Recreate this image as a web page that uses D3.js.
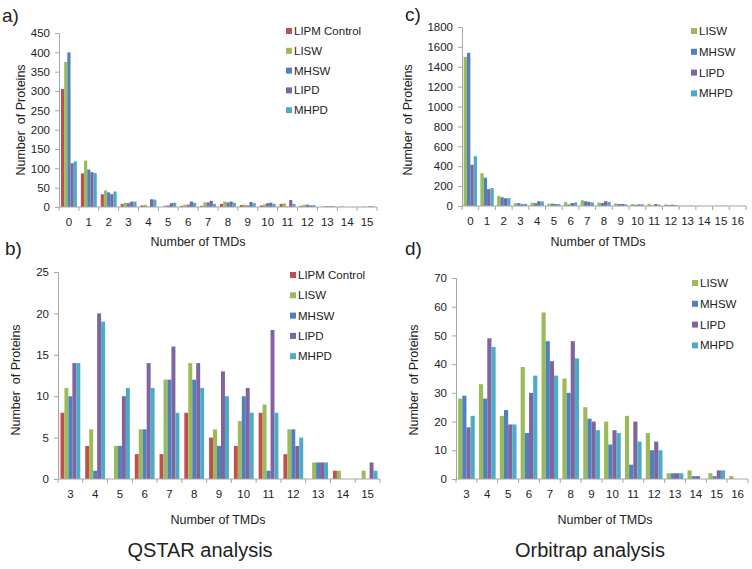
<!DOCTYPE html>
<html>
<head>
<meta charset="utf-8">
<script src="https://cdn.jsdelivr.net/npm/d3@7"></script>
<style>
  body { margin: 0; background: #fff; }
  svg { font-family: "Liberation Sans", Arial, sans-serif; }
  text { white-space: pre; }
</style>
</head>
<body>
<svg id="chart" width="752" height="569"></svg>
<script>
// ---------- DATA ----------
const seriesQ = ["LIPM Control", "LISW", "MHSW", "LIPD", "MHPD"];
const seriesO = ["LISW", "MHSW", "LIPD", "MHPD"];

// QSTAR, TMD 0..15
const tmdA = ["0","1","2","3","4","5","6","7","8","9","10","11","12","13","14","15"];
const qLIPM = [305, 87, 33, 8, 4, 0, 3, 3, 8, 5, 4, 8, 3, 0, 1, 0];
const qLISW = [375, 120, 43, 11, 6, 4, 6, 12, 14, 6, 7, 9, 6, 2, 1, 1];
const qMHSW = [400, 97, 38, 10, 1, 4, 6, 12, 12, 4, 10, 1, 6, 2, 0, 0];
const qLIPD = [113, 90, 33, 14, 20, 10, 14, 16, 14, 13, 11, 18, 4, 2, 0, 2];
const qMHPD = [118, 88, 40, 14, 19, 11, 11, 8, 11, 10, 8, 8, 5, 2, 0, 1];

// Orbitrap, TMD 0..16
const tmdC = ["0","1","2","3","4","5","6","7","8","9","10","11","12","13","14","15","16"];
const oLISW = [1500, 330, 100, 28, 33, 22, 39, 58, 35, 25, 20, 22, 16, 2, 3, 2, 1];
const oMHSW = [1540, 285, 88, 29, 28, 24, 16, 48, 30, 21, 12, 5, 10, 2, 1, 1, 0];
const oLIPD = [415, 170, 78, 18, 49, 19, 30, 41, 48, 20, 17, 20, 13, 2, 1, 3, 0];
const oMHPD = [500, 180, 80, 22, 46, 19, 36, 36, 42, 17, 16, 13, 10, 2, 0, 3, 0];

const ticksA = [0, 50, 100, 150, 200, 250, 300, 350, 400, 450];
const ticksB = [0, 5, 10, 15, 20, 25];
const ticksC = [0, 200, 400, 600, 800, 1000, 1200, 1400, 1600, 1800];
const ticksD = [0, 10, 20, 30, 40, 50, 60, 70];

const colorMap = {
  "LIPM Control": "#C0504D",
  "LISW": "#9BBB59",
  "MHSW": "#4F81BD",
  "LIPD": "#8064A2",
  "MHPD": "#4BACC6"
};

const svg = d3.select("#chart");
const FONT = "Liberation Sans, Arial, sans-serif";

function drawPanel(cfg) {
  const g = svg.append("g");
  const x = d3.scaleBand().domain(cfg.cats).range([cfg.x0, cfg.x1]).paddingInner(0).paddingOuter(0);
  const y = d3.scaleLinear().domain([0, cfg.ymax]).range([cfg.y0, cfg.y1]);
  const bw = x.bandwidth();
  const inner = d3.scaleBand().domain(cfg.series).range([bw * 0.1, bw * 0.9]);

  // bars
  cfg.series.forEach((s, si) => {
    g.append("g").selectAll("rect")
      .data(cfg.cats.map((c, i) => ({ c, v: cfg.values[si][i] })))
      .join("rect")
      .attr("x", d => x(d.c) + inner(s))
      .attr("width", inner.bandwidth())
      .attr("y", d => y(d.v))
      .attr("height", d => y(0) - y(d.v))
      .attr("fill", colorMap[s]);
  });

  // y axis
  const ya = g.append("g")
    .attr("transform", `translate(${cfg.x0},0)`)
    .call(d3.axisLeft(y).tickValues(cfg.yticks).tickFormat(d3.format("d")).tickSize(4).tickPadding(5));
  ya.attr("font-family", FONT);
  ya.select(".domain").attr("stroke", "#a6a6a6");
  ya.selectAll(".tick line").attr("stroke", "#a6a6a6");
  ya.selectAll(".tick text").attr("font-size", 11.5).attr("fill", "#222");

  // x axis: line plus boundary ticks
  const xa = g.append("g").attr("transform", `translate(0,${cfg.y0})`);
  xa.append("line").attr("x1", cfg.x0).attr("x2", cfg.x1).attr("stroke", "#a6a6a6");
  const bounds = cfg.cats.map(c => x(c)).concat([cfg.x1]);
  xa.selectAll(".bt").data(bounds).join("line")
    .attr("x1", d => d).attr("x2", d => d).attr("y1", 0).attr("y2", 4)
    .attr("stroke", "#a6a6a6");
  xa.selectAll(".lab").data(cfg.cats).join("text")
    .attr("x", d => x(d) + bw / 2).attr("y", 19)
    .attr("text-anchor", "middle").attr("font-size", 11.5).attr("fill", "#222")
    .text(d => d);

  // axis titles
  g.append("text")
    .attr("transform", `translate(${cfg.ytx},${cfg.yty}) rotate(-90)`)
    .attr("text-anchor", "middle").attr("font-size", 12.5).attr("fill", "#222")
    .text("Number  of Proteins");
  g.append("text")
    .attr("x", cfg.xtx).attr("y", cfg.xty)
    .attr("text-anchor", "middle").attr("font-size", 12.5).attr("fill", "#222")
    .text("Number of TMDs");

  // panel label
  g.append("text").attr("x", cfg.lx).attr("y", cfg.ly)
    .attr("font-size", 19).attr("fill", "#222").text(cfg.label);

  // legend
  const lg = g.append("g");
  cfg.series.forEach((s, i) => {
    const yy = cfg.legY + i * cfg.legDy;
    lg.append("rect").attr("x", cfg.legX).attr("y", yy - 7).attr("width", 6).attr("height", 6)
      .attr("fill", colorMap[s]);
    lg.append("text").attr("x", cfg.legX + 8).attr("y", yy)
      .attr("font-size", 11.5).attr("fill", "#222").text(s);
  });
}

drawPanel({
  cats: tmdA, series: seriesQ, values: [qLIPM, qLISW, qMHSW, qLIPD, qMHPD],
  x0: 59, x1: 377, y0: 207, y1: 33, ymax: 450, yticks: ticksA,
  ytx: 25, yty: 120, xtx: 198, xty: 246, lx: 2, ly: 22, label: "a)",
  legX: 286, legY: 35, legDy: 19.8
});

drawPanel({
  cats: tmdA.slice(3), series: seriesQ,
  values: [qLIPM, qLISW, qMHSW, qLIPD, qMHPD].map(a => a.slice(3)),
  x0: 58, x1: 380, y0: 479, y1: 272, ymax: 25, yticks: ticksB,
  ytx: 20, yty: 380, xtx: 218, xty: 524, lx: 5, ly: 255, label: "b)",
  legX: 290, legY: 279, legDy: 20.3
});

drawPanel({
  cats: tmdC, series: seriesO, values: [oLISW, oMHSW, oLIPD, oMHPD],
  x0: 462, x1: 746, y0: 206, y1: 27, ymax: 1800, yticks: ticksC,
  ytx: 412, yty: 120, xtx: 598, xty: 246, lx: 405, ly: 21, label: "c)",
  legX: 691, legY: 35, legDy: 20.8
});

drawPanel({
  cats: tmdC.slice(3), series: seriesO,
  values: [oLISW, oMHSW, oLIPD, oMHPD].map(a => a.slice(3)),
  x0: 456, x1: 748, y0: 479, y1: 278, ymax: 70, yticks: ticksD,
  ytx: 418, yty: 380, xtx: 605, xty: 524, lx: 405, ly: 255, label: "d)",
  legX: 692, legY: 287, legDy: 20.8
});

svg.append("text").attr("x", 200).attr("y", 557).attr("text-anchor", "middle")
  .attr("font-size", 20).attr("fill", "#222").text("QSTAR analysis");
svg.append("text").attr("x", 590).attr("y", 557).attr("text-anchor", "middle")
  .attr("font-size", 20).attr("fill", "#222").text("Orbitrap analysis");
</script>
</body>
</html>
